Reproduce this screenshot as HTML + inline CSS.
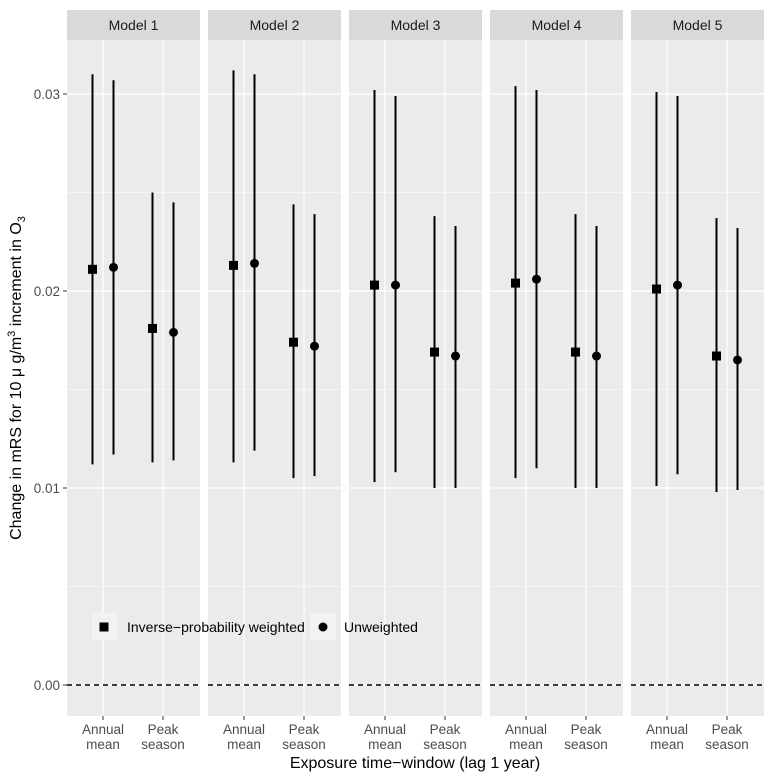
<!DOCTYPE html>
<html><head><meta charset="utf-8"><style>
body{margin:0;background:#fff;}
svg text{font-family:"Liberation Sans",Arial,sans-serif;}
</style></head><body>
<svg id="chart" width="768" height="775" xmlns="http://www.w3.org/2000/svg"></svg>
<script>
const models=["Model 1","Model 2","Model 3","Model 4","Model 5"];
const categories=["Annual mean","Peak season"];
const yTicks=[0,0.01,0.02,0.03];
const yTickLabels=["0.00","0.01","0.02","0.03"];
// per model: [annual, peak]
const ipwEst=[[0.0211,0.0181],[0.0213,0.0174],[0.0203,0.0169],[0.0204,0.0169],[0.0201,0.0167]];
const ipwLo=[[0.0112,0.0113],[0.0113,0.0105],[0.0103,0.0100],[0.0105,0.0100],[0.0101,0.0098]];
const ipwHi=[[0.0310,0.0250],[0.0312,0.0244],[0.0302,0.0238],[0.0304,0.0239],[0.0301,0.0237]];
const unwEst=[[0.0212,0.0179],[0.0214,0.0172],[0.0203,0.0167],[0.0206,0.0167],[0.0203,0.0165]];
const unwLo=[[0.0117,0.0114],[0.0119,0.0106],[0.0108,0.0100],[0.0110,0.0100],[0.0107,0.0099]];
const unwHi=[[0.0307,0.0245],[0.0310,0.0239],[0.0299,0.0233],[0.0302,0.0233],[0.0299,0.0232]];

const svg=document.getElementById('chart');
const NS="http://www.w3.org/2000/svg";
function mk(tag,attrs,parent){const e=document.createElementNS(NS,tag);for(const k in attrs)e.setAttribute(k,attrs[k]);(parent||svg).appendChild(e);return e;}
const panelTop=40,panelBot=716,panelW=133,panelStep=141,panelX0=67;
function y(v){return 685-v*19700;}
function x(p,c){return panelX0+p*panelStep+36+c*60;}
const dodge=10.5;

models.forEach((m,p)=>{
  const px=panelX0+p*panelStep;
  const g=mk('g',{});
  
  
  const bg=mk('rect',{x:px,y:panelTop,width:panelW,height:panelBot-panelTop,fill:'#ebebeb'},g);
  
  for(let i=0;i<yTicks.length-1;i++){const mv=(yTicks[i]+yTicks[i+1])/2;
    mk('line',{x1:px,x2:px+panelW,y1:y(mv),y2:y(mv),stroke:'#fff','stroke-width':0.6},g);}
  yTicks.forEach(t=>mk('line',{x1:px,x2:px+panelW,y1:y(t),y2:y(t),stroke:'#fff','stroke-width':1.2},g));
  categories.forEach((c,ci)=>mk('line',{x1:x(p,ci),x2:x(p,ci),y1:panelTop,y2:panelBot,stroke:'#fff','stroke-width':1.2},g));
  const st=mk('rect',{x:px,y:10,width:panelW,height:30,fill:'#d9d9d9'},g);
  
  const tt=mk('text',{x:px+panelW/2,y:30,'text-anchor':'middle','font-size':14,fill:'#1a1a1a'},g);tt.textContent=m;
  
  const zl=mk('line',{x1:px,x2:px+panelW,y1:y(0),y2:y(0),stroke:'#000','stroke-width':1.4,'stroke-dasharray':'5,4'},g);
  
  categories.forEach((c,ci)=>{
    const cx=x(p,ci);
    mk('line',{x1:cx,x2:cx,y1:panelBot,y2:panelBot+4,stroke:'#333','stroke-width':1},g);
    const parts=c.split(' ');
    parts.forEach((w,wi)=>{const t=mk('text',{x:cx,y:734+wi*15,'text-anchor':'middle','font-size':13.5,fill:'#4d4d4d'},g);t.textContent=w;
      });
    const l1=mk('line',{x1:cx-dodge,x2:cx-dodge,y1:y(ipwLo[p][ci]),y2:y(ipwHi[p][ci]),stroke:'#000','stroke-width':2},g);
    
    const s=mk('rect',{x:cx-dodge-4.5,y:y(ipwEst[p][ci])-4.5,width:9,height:9,fill:'#000'},g);
    
    const l2=mk('line',{x1:cx+dodge,x2:cx+dodge,y1:y(unwLo[p][ci]),y2:y(unwHi[p][ci]),stroke:'#000','stroke-width':2},g);
    
    const ci2=mk('circle',{cx:cx+dodge,cy:y(unwEst[p][ci]),r:4.5,fill:'#000'},g);
    
  });
});
yTicks.forEach((t,i)=>{
  mk('line',{x1:63,x2:67,y1:y(t),y2:y(t),stroke:'#333','stroke-width':1});
  const tx=mk('text',{x:60,y:y(t)+5,'text-anchor':'end','font-size':13.5,fill:'#4d4d4d'});tx.textContent=yTickLabels[i];
  
});
const lg=mk('g',{});

mk('rect',{x:92,y:613,width:26,height:27,fill:'#f2f2f2'},lg);
mk('rect',{x:99.5,y:622.5,width:9,height:9,fill:'#000'},lg);
const lt1=mk('text',{x:127,y:632,'font-size':14,fill:'#000'},lg);lt1.textContent='Inverse\u2212probability weighted';

mk('rect',{x:310,y:613,width:26,height:27,fill:'#f2f2f2'},lg);
mk('circle',{cx:323,cy:627,r:4.5,fill:'#000'},lg);
const lt2=mk('text',{x:344,y:632,'font-size':14,fill:'#000'},lg);lt2.textContent='Unweighted';

const xt=mk('text',{x:415,y:768,'text-anchor':'middle','font-size':16,fill:'#000'});xt.textContent='Exposure time\u2212window (lag 1 year)';

const yt=mk('text',{x:0,y:0,'text-anchor':'middle','font-size':16,fill:'#000',transform:'translate(21,378) rotate(-90)'});
yt.innerHTML='Change in mRS for 10 \u03bc g/m<tspan dy="-6" font-size="11">3</tspan><tspan dy="6"> increment in O</tspan><tspan dy="4" font-size="11">3</tspan>';

</script>
</body></html>
